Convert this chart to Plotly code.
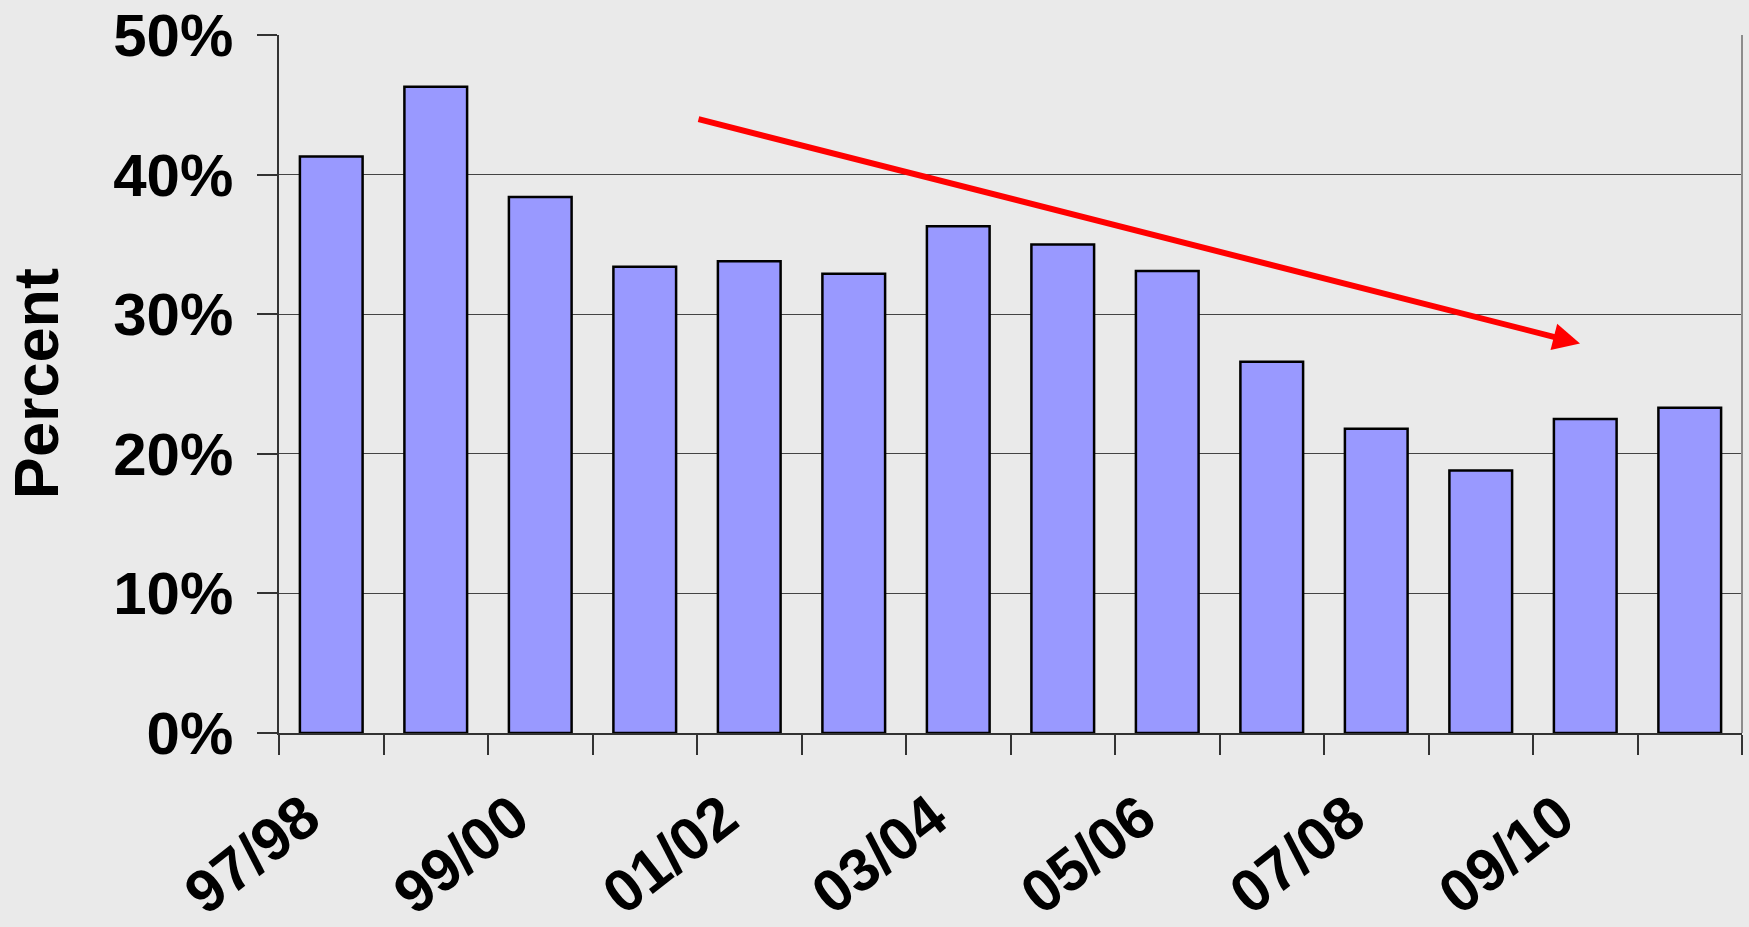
import plotly.graph_objects as go

# ── Data ───────────────────────────────────────────────
YEARS = ["97/98", "98/99", "99/00", "00/01", "01/02", "02/03", "03/04",
         "04/05", "05/06", "06/07", "07/08", "08/09", "09/10", "10/11"]
PERCENT = [41.3, 46.3, 38.4, 33.4, 33.8, 32.9, 36.3,
           35.0, 33.1, 26.6, 21.8, 18.8, 22.5, 23.3]

# only every other year gets a label
LABEL_IDX = [0, 2, 4, 6, 8, 10, 12]

Y_TICKS = [0, 10, 20, 30, 40, 50]
Y_LABELS = ["0%", "10%", "20%", "30%", "40%", "50%"]

# trend arrow, start -> end in data units (category index, percent)
TREND_START = (3.5, 44.0)
TREND_END = (11.95, 27.9)

BG = "#EAEAEA"
BAR_COLOR = "#9999FF"
FONT = "Liberation Sans, Arial, sans-serif"

x_idx = list(range(len(YEARS)))

fig = go.Figure(go.Bar(
    x=x_idx,
    y=PERCENT,
    width=0.6,
    marker=dict(color=BAR_COLOR, line=dict(color="black", width=2.5)),
    hovertemplate="%{customdata}: %{y:.1f}%<extra></extra>",
    customdata=YEARS,
))

fig.add_annotation(
    x=TREND_END[0], y=TREND_END[1],
    ax=TREND_START[0], ay=TREND_START[1],
    xref="x", yref="y", axref="x", ayref="y",
    text="", showarrow=True,
    arrowhead=2, arrowsize=0.9, arrowwidth=6, arrowcolor="#FF0000",
)

# right border of the plot area
fig.add_shape(type="line", xref="paper", yref="paper",
              x0=1, x1=1, y0=0, y1=1,
              line=dict(color="#8C8C8C", width=2))

fig.add_annotation(
    text="<b>Percent</b>", textangle=-90,
    xref="paper", yref="paper", x=-0.166, y=0.5,
    xanchor="center", yanchor="middle", showarrow=False,
    font=dict(family=FONT, size=63, color="black"),
)

fig.update_xaxes(
    range=[-0.5, len(YEARS) - 0.5],
    automargin=False,
    tickmode="array",
    tickvals=LABEL_IDX,
    ticktext=[YEARS[i] for i in LABEL_IDX],
    tickangle=-38,
    ticks="",
    ticklabelstandoff=24,
    ticklabelshift=-26,
    tickfont=dict(family=FONT, size=60, color="black", weight="bold"),
    minor=dict(ticks="outside", tick0=-0.5, dtick=1, ticklen=20,
               tickcolor="#333333", tickwidth=1.5, showgrid=False),
    showline=True, linecolor="#333333", linewidth=1.5,
    showgrid=False, zeroline=False,
)

fig.update_yaxes(
    range=[0, 50],
    automargin=False,
    tickmode="array",
    tickvals=Y_TICKS,
    ticktext=Y_LABELS,
    ticks="outside", ticklen=20, tickcolor="#333333", tickwidth=1.5,
    ticklabelstandoff=12,
    tickfont=dict(family=FONT, size=60, color="black", weight="bold"),
    showline=True, linecolor="#333333", linewidth=1.5,
    showgrid=True, gridcolor="#444444", gridwidth=1,
    zeroline=False,
)

fig.update_layout(
    width=1749, height=927,
    paper_bgcolor=BG, plot_bgcolor=BG,
    font=dict(family=FONT),
    showlegend=False,
    margin=dict(l=279, r=7, t=35, b=194),
)

fig.write_html(
    "out.html",
    config={"displayModeBar": False},
    post_script="document.body.style.margin='0';"
                "document.body.style.background='#EAEAEA';",
)
